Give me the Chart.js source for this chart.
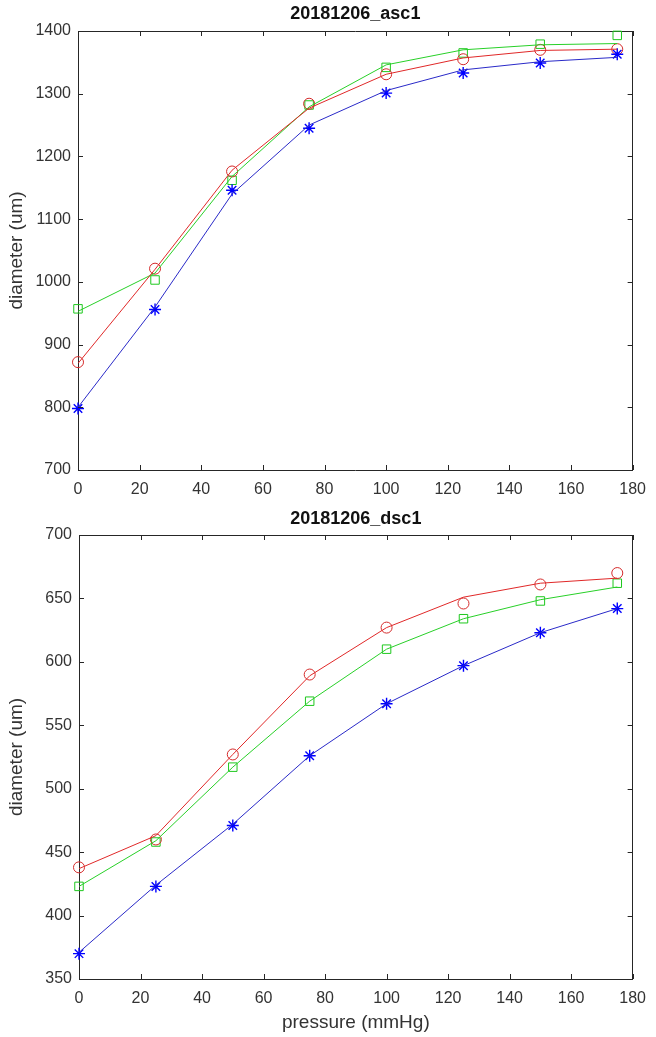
<!DOCTYPE html>
<html>
<head>
<meta charset="utf-8">
<script src="https://cdn.jsdelivr.net/npm/chart.js@4"></script>
<style>
  body { margin: 0; background: #ffffff; }
  #top-wrap { position: absolute; left: 0; top: 0; width: 656px; height: 505px; }
  #bottom-wrap { position: absolute; left: 0; top: 505px; width: 656px; height: 532px; }
</style>
</head>
<body>
<div id="top-wrap"><canvas id="asc-canvas"></canvas></div>
<div id="bottom-wrap"><canvas id="dsc-canvas"></canvas></div>
<script>
// 압력 (x축)
const pressure = [0, 25, 50, 75, 100, 125, 150, 175];

// 20181206_asc1 - 측정점
const ascBlueMarks = [798, 956, 1146, 1245, 1301, 1333, 1349, 1363];
const ascRedMarks = [872, 1021, 1176, 1284, 1331, 1355, 1370, 1371];
const ascGreenMarks = [957, 1003, 1162, 1282, 1342, 1365, 1379, 1393];
// 20181206_asc1 - 곡선
const ascBlueLine = [800, 960, 1140, 1250, 1305, 1338, 1351, 1358];
const ascRedLine = [870, 1020, 1178, 1277, 1331, 1357, 1369, 1371];
const ascGreenLine = [953, 1014, 1168, 1279, 1346, 1370, 1378, 1380];

// 20181206_dsc1 - 측정점
const dscBlueMarks = [370, 423, 471, 526, 567, 597, 623, 642];
const dscRedMarks = [438, 460, 527, 590, 627, 646, 661, 670];
const dscGreenMarks = [423, 458, 517, 569, 610, 634, 648, 662];
// 20181206_dsc1 - 곡선
const dscBlueLine = [371, 424, 472, 526, 567, 597, 623, 642];
const dscRedLine = [437, 463, 527, 589, 627, 651, 662, 666];
const dscGreenLine = [423, 459, 517, 569, 610, 634, 649, 659];

const xTicks = [0, 20, 40, 60, 80, 100, 120, 140, 160, 180];

const FONT = "'Liberation Sans', Arial, Helvetica, sans-serif";
const AXIS_COLOR = '#262626';

function toPoints(ys) {
    return pressure.map((p, i) => ({ x: p, y: ys[i] }));
}

function lineSet(ys, color) {
    return {
        data: toPoints(ys),
        showLine: true,
        borderColor: color,
        borderWidth: 1,
        pointRadius: 0,
        fill: false,
    };
}

function markSet(ys, color, style, radius, width) {
    return {
        data: toPoints(ys),
        showLine: false,
        clip: false, // 축 가장자리 마커도 온전히 표시
        pointStyle: style,
        pointRadius: radius,
        pointBorderColor: color,
        pointBackgroundColor: 'rgba(0,0,0,0)',
        pointBorderWidth: width,
    };
}

// MATLAB 스타일 안쪽 눈금
const innerTicks = {
    id: 'innerTicks',
    afterDraw(chart) {
        const ctx = chart.ctx;
        const a = chart.chartArea;
        const len = 5;
        ctx.save();
        ctx.strokeStyle = AXIS_COLOR;
        ctx.lineWidth = 1;
        ctx.beginPath();
        chart.scales.x.ticks.forEach(t => {
            const px = Math.round(chart.scales.x.getPixelForValue(t.value)) + 0.5;
            ctx.moveTo(px, a.bottom);
            ctx.lineTo(px, a.bottom - len);
            ctx.moveTo(px, a.top);
            ctx.lineTo(px, a.top + len);
        });
        chart.scales.y.ticks.forEach(t => {
            const py = Math.round(chart.scales.y.getPixelForValue(t.value)) + 0.5;
            ctx.moveTo(a.left, py);
            ctx.lineTo(a.left + len, py);
            ctx.moveTo(a.right, py);
            ctx.lineTo(a.right - len, py);
        });
        ctx.stroke();
        ctx.restore();
    }
};

function makeChart(canvasId, cfg) {
    const ctx = document.getElementById(canvasId).getContext('2d');
    return new Chart(ctx, {
        type: 'scatter',
        data: {
            datasets: [
                lineSet(cfg.blueLine, '#2a2ac8'),
                lineSet(cfg.redLine, '#e02828'),
                lineSet(cfg.greenLine, '#28d028'),
                markSet(cfg.blueMarks, '#0000ff', 'star', 6, 1.4),
                markSet(cfg.redMarks, '#d42a2a', 'circle', 5.5, 1),
                markSet(cfg.greenMarks, '#1ec81e', 'rect', 6, 1),
            ]
        },
        options: {
            responsive: true,
            maintainAspectRatio: false,
            animation: false,
            layout: { padding: 0 },
            plugins: {
                legend: { display: false },
                tooltip: { enabled: false },
            },
            scales: {
                x: {
                    type: 'linear',
                    position: 'bottom',
                    min: 0,
                    max: 180,
                    afterBuildTicks: (s) => { s.ticks = xTicks.map(v => ({ value: v })); },
                    afterFit: (s) => { s.height = cfg.bottomH; },
                    grid: { display: false, drawTicks: false },
                    border: { display: true, color: AXIS_COLOR, width: 1 },
                    ticks: {
                        color: '#333333',
                        padding: cfg.xTickPad,
                        maxRotation: 0,
                        autoSkip: false,
                        font: { family: FONT, size: 16 },
                        callback: (v) => String(v),
                    },
                    title: {
                        display: cfg.xTitle !== '',
                        text: cfg.xTitle,
                        color: '#333333',
                        font: { family: FONT, size: 19 },
                        padding: { top: 0, bottom: 3 },
                    },
                },
                x2: {
                    type: 'linear',
                    position: 'top',
                    min: 0,
                    max: 180,
                    afterFit: (s) => { s.height = cfg.topH; },
                    grid: { display: false, drawTicks: false },
                    border: { display: true, color: AXIS_COLOR, width: 1 },
                    ticks: { display: false },
                    title: {
                        display: true,
                        text: cfg.title,
                        color: '#111111',
                        font: { family: FONT, size: 18, weight: 'bold' },
                        padding: { top: 3, bottom: 0 },
                    },
                },
                y: {
                    type: 'linear',
                    position: 'left',
                    min: cfg.yMin,
                    max: cfg.yMax,
                    afterFit: (s) => { s.width = cfg.leftW; },
                    grid: { display: false, drawTicks: false },
                    border: { display: true, color: AXIS_COLOR, width: 1 },
                    ticks: {
                        stepSize: cfg.yStep,
                        color: '#333333',
                        padding: 7,
                        font: { family: FONT, size: 16 },
                        callback: (v) => String(v),
                    },
                    title: {
                        display: true,
                        text: 'diameter (um)',
                        color: '#333333',
                        font: { family: FONT, size: 19 },
                        padding: { top: 5, bottom: 0 },
                    },
                },
                y2: {
                    type: 'linear',
                    position: 'right',
                    min: cfg.yMin,
                    max: cfg.yMax,
                    afterFit: (s) => { s.width = cfg.rightW; },
                    grid: { display: false, drawTicks: false },
                    border: { display: true, color: AXIS_COLOR, width: 1 },
                    ticks: { display: false },
                },
            },
        },
        plugins: [innerTicks],
    });
}

makeChart('asc-canvas', {
    title: '20181206_asc1',
    xTitle: '',
    yMin: 700, yMax: 1400, yStep: 100,
    leftW: 78, rightW: 21, topH: 31, bottomH: 35, xTickPad: 10,
    blueMarks: ascBlueMarks, redMarks: ascRedMarks, greenMarks: ascGreenMarks,
    blueLine: ascBlueLine, redLine: ascRedLine, greenLine: ascGreenLine,
});

makeChart('dsc-canvas', {
    title: '20181206_dsc1',
    xTitle: 'pressure (mmHg)',
    yMin: 350, yMax: 700, yStep: 50,
    leftW: 79, rightW: 13, topH: 30, bottomH: 58, xTickPad: 10,
    blueMarks: dscBlueMarks, redMarks: dscRedMarks, greenMarks: dscGreenMarks,
    blueLine: dscBlueLine, redLine: dscRedLine, greenLine: dscGreenLine,
});
</script>
</body>
</html>
